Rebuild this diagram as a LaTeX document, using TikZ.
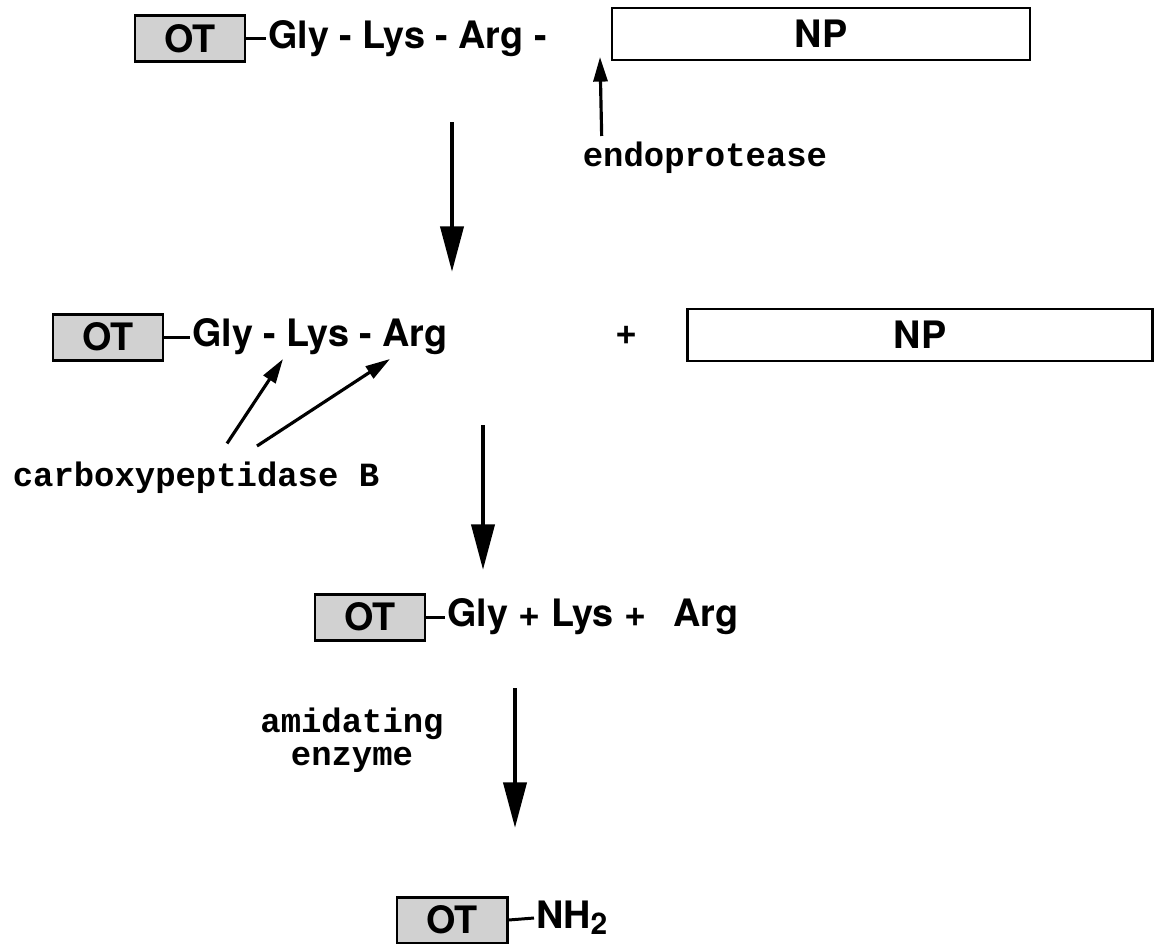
\documentclass[tikz,border=0pt]{standalone}
\usepackage{fontspec}
\setsansfont{TeX Gyre Heros}
\setmonofont{Liberation Mono}
\usetikzlibrary{arrows.meta}

\begin{document}
\begin{tikzpicture}[x=0.2cm, y=-0.2cm,
    font=\sffamily\bfseries\fontsize{21.5}{24}\selectfont,
    ot/.style={draw, line width=1.7pt, fill=black!18, minimum width=2.2cm,
      minimum height=0.92cm, inner sep=0pt},
    chain/.style={anchor=west, inner sep=1pt},
    np/.style={draw, line width=1.2pt, minimum height=1.04cm, inner sep=0pt},
    enz/.style={font=\ttfamily\bfseries\fontsize{19.3}{18.5}\selectfont, align=center},
    react/.style={-{Triangle[length=26pt,width=13pt]}, line width=2.6pt},
    hit/.style={-{Triangle[length=14pt,width=8pt]}, line width=1.8pt}]
  \useasboundingbox (0,0) rectangle (115.6,94.3);

  % precursor
  \node[ot] (ot1) at (19.0,3.85) {OT};
  \node[chain] (pep1) at (26.6,3.85) {Gly - Lys - Arg -};
  \node[np, minimum width=8.36cm] (np1) at (82.1,3.4) {NP};
  \draw[line width=1.7pt] (ot1.east) -- (pep1.west);

  \node[enz] (endo) at (70.5,15.8) {endoprotease};
  \coordinate (cut) at (60.0,5.7);
  \draw[hit] ([xshift=0.5cm]endo.north west) -- (cut);

  \coordinate (a1s) at (45.2,12.2);
  \coordinate (a1e) at (45.2,27.2);
  \draw[react] (a1s) -- (a1e);

  % after cleavage
  \node[ot] (ot2) at (10.8,33.7) {OT};
  \node[chain] (pep2) at (19.0,33.7) {Gly - Lys - Arg};
  \node (plus) at (62.7,33.5) {+};
  \node[np, minimum width=9.3cm] (np2) at (92.0,33.5) {NP};
  \draw[line width=1.7pt] (ot2.east) -- (pep2.west);

  \node[enz] (cpb) at (19.6,47.8) {carboxypeptidase B};
  \coordinate (lys) at (28.3,35.9);
  \coordinate (arg) at (39.0,35.9);
  \draw[hit] ([xshift=0.62cm,yshift=0.25cm]cpb.north) -- (lys);
  \draw[hit] ([xshift=1.22cm,yshift=0.2cm]cpb.north) -- (arg);

  \coordinate (a2s) at (48.3,42.5);
  \coordinate (a2e) at (48.3,57.0);
  \draw[react] (a2s) -- (a2e);

  % trimmed
  \node[ot] (ot3) at (37.0,61.7) {OT};
  \node[chain] (pep3) at (44.5,61.7) {Gly + Lys + \ \,Arg};
  \draw[line width=1.7pt] (ot3.east) -- (pep3.west);

  \node[enz] (amid) at (35.2,74.0) {amidating\\enzyme};
  \coordinate (a3s) at (51.5,68.8);
  \coordinate (a3e) at (51.5,82.8);
  \draw[react] (a3s) -- (a3e);

  % amidated
  \node[ot] (ot4) at (45.2,92.0) {OT};
  \node[chain] (nh) at (53.4,91.8) {NH\raisebox{-0.3ex}{\fontsize{17}{17}\selectfont 2}};
  \draw[line width=1.7pt] (ot4.east) -- (nh.west);
\end{tikzpicture}
\end{document}
